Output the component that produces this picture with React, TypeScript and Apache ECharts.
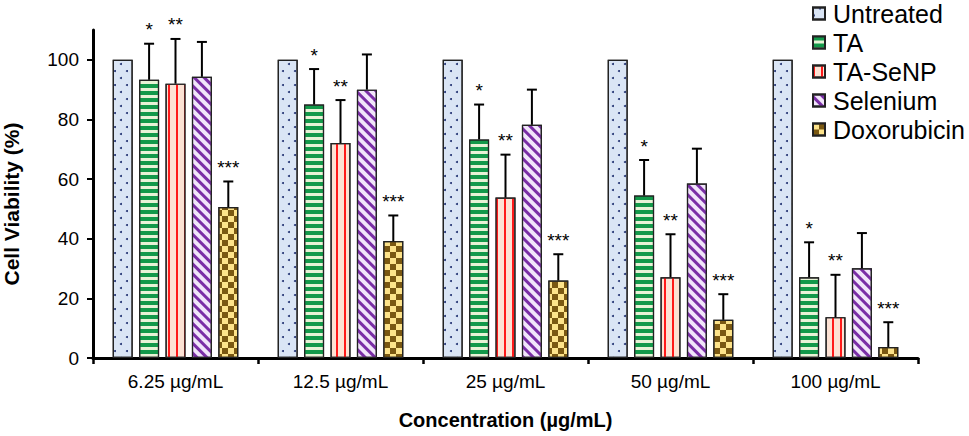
import React, { useEffect, useRef } from "react";
import * as echarts from "echarts";

const categories = ["6.25 µg/mL", "12.5 µg/mL", "25 µg/mL", "50 µg/mL", "100 µg/mL"];
const seriesNames = ["Untreated", "TA", "TA-SeNP", "Selenium", "Doxorubicin"];
const untreated = [100, 100, 100, 100, 100];
const ta = [93.3, 85, 73.3, 54.5, 27.1];
const taErr = [12.1, 11.9, 11.7, 11.9, 11.7];
const taSeNP = [92, 72.1, 53.8, 27.1, 13.7];
const taSeNPErr = [15, 14.4, 14.4, 14.4, 14.2];
const selenium = [94.3, 90, 78.2, 58.5, 30.1];
const seleniumErr = [11.7, 11.8, 11.8, 11.7, 11.8];
const dox = [50.6, 39.2, 26, 12.8, 3.7];
const doxErr = [8.6, 8.6, 8.8, 8.6, 8.3];
const significance = ["", "*", "**", "", "***"];
const yTicks = [0, 20, 40, 60, 80, 100];

const FONT = "Liberation Sans, Arial, sans-serif";
const BAR_W = 20;
const GAP_PCT = 0.32;
const STEP = BAR_W * (1 + GAP_PCT);

export default function App() {
  const ref = useRef<HTMLDivElement>(null);
  useEffect(() => {
    if (!ref.current) return;
    const chart = echarts.init(ref.current, undefined, { renderer: "svg" });

    const values = [untreated, ta, taSeNP, selenium, dox];
    const errs = [null, taErr, taSeNPErr, seleniumErr, doxErr];

    const styles: any[] = [
      {
        color: "#dae5f5",
        decal: {
          symbol: "circle",
          symbolSize: 1,
          dashArrayX: [[2, 10], [0, 6, 2, 4]],
          dashArrayY: [2, 5],
          color: "#1f3070",
        },
      },
      {
        color: "#e8f3d6",
        decal: {
          symbol: "rect",
          symbolSize: 1,
          dashArrayX: [1, 0],
          dashArrayY: [3.3, 2.9],
          color: "#13994a",
        },
      },
      {
        color: "#fde2d4",
        decal: {
          symbol: "rect",
          symbolSize: 1,
          dashArrayX: [1.4, 5.2],
          dashArrayY: [1, 0],
          color: "#ff1a1a",
        },
      },
      {
        color: "#f1e5fa",
        decal: {
          symbol: "rect",
          symbolSize: 1,
          dashArrayX: [1, 0],
          dashArrayY: [2.8, 3.2],
          rotation: Math.PI / 4,
          color: "#7a2ea6",
        },
      },
      {
        color: "#fde38a",
        decal: {
          symbol: "rect",
          symbolSize: 1,
          dashArrayX: [[6, 6], [0, 6, 6, 0]],
          dashArrayY: [6, 0],
          color: "#7a5812",
        },
      },
    ];

    const barSeries = seriesNames.map((name, i) => ({
      name,
      type: "bar",
      data: values[i],
      barWidth: BAR_W,
      barGap: GAP_PCT * 100 + "%",
      itemStyle: { ...styles[i], borderColor: "#222", borderWidth: 1.2 },
      z: 2,
    }));

    const errData: number[][] = [];
    errs.forEach((e, si) => {
      if (!e) return;
      e.forEach((v, ci) => errData.push([ci, values[si][ci], v, si]));
    });

    const errSeries = {
      type: "custom",
      name: "err",
      z: 5,
      clip: false,
      data: errData,
      encode: { x: 0, y: 1 },
      renderItem: (params: any, api: any) => {
        const cat = api.value(0);
        const mean = api.value(1);
        const err = api.value(2);
        const si = api.value(3);
        const base = api.coord([cat, mean]);
        const top = api.coord([cat, mean + err]);
        const x = base[0] + (si - 2) * STEP;
        return {
          type: "group",
          children: [
            {
              type: "line",
              shape: { x1: x, y1: base[1], x2: x, y2: top[1] },
              style: { stroke: "#000", lineWidth: 2 },
            },
            {
              type: "line",
              shape: { x1: x - 5, y1: top[1], x2: x + 5, y2: top[1] },
              style: { stroke: "#000", lineWidth: 2 },
            },
            {
              type: "text",
              style: {
                text: significance[si],
                x,
                y: top[1] - 14,
                align: "center",
                verticalAlign: "middle",
                fontSize: 19,
                fontFamily: FONT,
                fill: "#000",
              },
            },
          ],
        };
      },
    };

    chart.setOption({
      animation: false,
      backgroundColor: "#fff",
      textStyle: { fontFamily: FONT },
      grid: {
        left: 93,
        right: 51,
        top: 30,
        bottom: 78,
        containLabel: false,
        outerBoundsMode: "none",
      },
      legend: {
        data: seriesNames,
        orient: "vertical",
        left: 812,
        top: 1,
        padding: 0,
        itemWidth: 12,
        itemHeight: 12,
        itemGap: 4,
        icon: "rect",
        textStyle: {
          fontSize: 25,
          lineHeight: 25,
          color: "#000",
          fontFamily: FONT,
          padding: [0, 0, 0, 3],
        },
      },
      xAxis: {
        type: "category",
        data: categories,
        name: "Concentration (µg/mL)",
        nameLocation: "middle",
        nameGap: 52,
        nameTextStyle: { fontSize: 20, fontWeight: "bold", color: "#000", fontFamily: FONT },
        axisLine: { show: true, lineStyle: { color: "#000", width: 3 } },
        axisTick: { show: true, alignWithLabel: false, interval: 0, length: 6, lineStyle: { color: "#000", width: 2.5 } },
        axisLabel: { fontSize: 19, color: "#000", margin: 14, interval: 0, fontFamily: FONT },
        splitLine: { show: false },
      },
      yAxis: {
        type: "value",
        min: 0,
        max: 110,
        interval: 20,
        name: "Cell Viability (%)",
        nameLocation: "middle",
        nameGap: 71,
        nameTextStyle: {
          fontSize: 21,
          fontWeight: "bold",
          color: "#000",
          fontFamily: FONT,
          padding: [0, 20, 0, 0],
        },
        axisLine: { show: true, lineStyle: { color: "#000", width: 3 } },
        axisTick: { show: true, length: 6, customValues: yTicks, lineStyle: { color: "#000", width: 2 } },
        axisLabel: { fontSize: 19, color: "#000", margin: 14, customValues: yTicks, fontFamily: FONT },
        splitLine: { show: false },
      },
      series: [...barSeries, errSeries],
    });

    return () => chart.dispose();
  }, []);

  return (
    <div
      ref={ref}
      style={{ position: "fixed", left: 0, top: 0, width: 969, height: 436, background: "#fff" }}
    />
  );
}
